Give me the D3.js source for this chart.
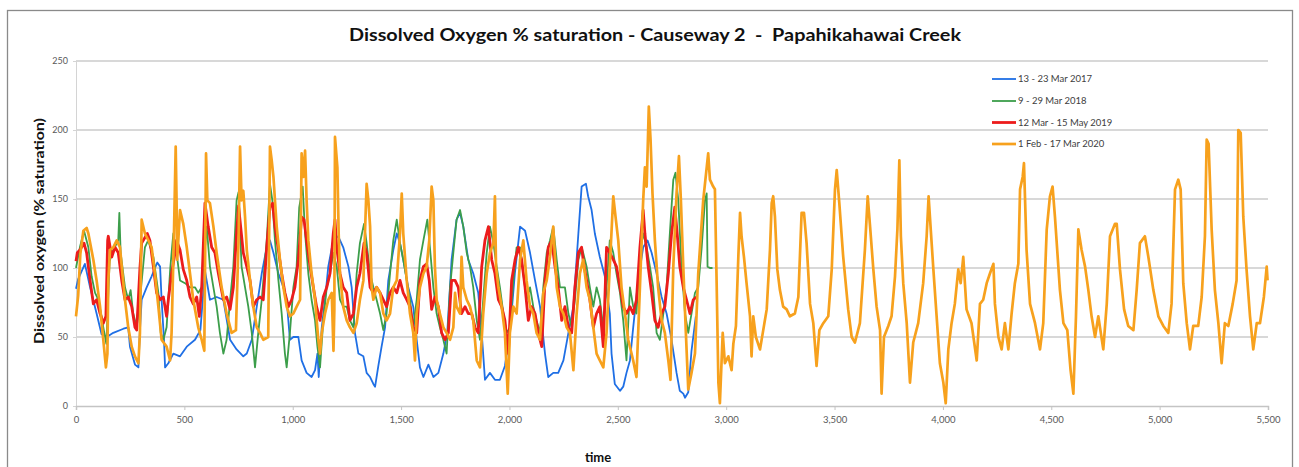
<!DOCTYPE html>
<html><head><meta charset="utf-8">
<script src="https://cdn.jsdelivr.net/npm/d3@7"></script>
<style>
html,body{margin:0;padding:0;background:#fff;}
svg{display:block;}
text{font-family:Lato,"Open Sans",sans-serif;}
</style></head>
<body>
<svg id="chart" width="1299" height="467"></svg>
<script>
const title = "Dissolved Oxygen % saturation - Causeway 2  -  Papahikahawai Creek";
const xLabel = "time";
const yLabel = "Dissolved oxygen (% saturation)";
const seriesNames = ["13 - 23 Mar 2017", "9 - 29 Mar 2018", "12 Mar - 15 May 2019", "1 Feb - 17 Mar 2020"];
const xTicks = [0,500,1000,1500,2000,2500,3000,3500,4000,4500,5000,5500];
const yTicks = [0,50,100,150,200,250];

const blue2017 = [[0,85],[10,92],[41,103],[65,86],[95,67],[118,52],[142,50],[172,53],[219,56],[241,57],[249,43],[272,30],[288,28],[295,55],[303,77],[326,86],[349,94],[375,104],[388,101],[395,77],[406,48],[411,28],[426,31],[449,38],[480,36],[511,43],[549,48],[574,55],[595,98],[618,77],[649,79],[680,77],[711,48],[741,41],[772,36],[788,38],[811,48],[834,72],[857,96],[880,115],[895,120],[911,111],[934,96],[957,86],[972,77],[987,48],[1003,50],[1026,50],[1041,33],[1064,24],[1087,21],[1103,26],[1114,38],[1120,21],[1134,57],[1149,77],[1164,101],[1187,120],[1210,123],[1233,115],[1257,101],[1272,86],[1287,53],[1303,38],[1326,36],[1341,24],[1357,21],[1372,16],[1380,14],[1395,29],[1410,43],[1426,57],[1441,91],[1464,113],[1480,125],[1495,118],[1510,106],[1533,86],[1556,72],[1572,48],[1587,28],[1603,21],[1626,30],[1649,21],[1672,24],[1695,38],[1713,53],[1733,106],[1756,135],[1772,140],[1787,130],[1810,106],[1833,96],[1856,82],[1872,53],[1887,19],[1910,24],[1933,19],[1956,19],[1979,29],[2002,53],[2025,96],[2049,130],[2072,127],[2095,111],[2118,91],[2141,72],[2164,38],[2179,21],[2202,24],[2225,24],[2249,33],[2272,53],[2295,72],[2318,125],[2333,159],[2353,161],[2363,152],[2379,142],[2394,125],[2417,108],[2440,94],[2463,67],[2471,38],[2486,16],[2510,11],[2525,14],[2540,24],[2556,33],[2571,57],[2594,91],[2617,115],[2637,120],[2656,111],[2679,96],[2702,79],[2725,67],[2748,48],[2771,24],[2786,11],[2802,9],[2810,6],[2825,10],[2840,40],[2860,65]];

const green2018 = [[0,100],[18,115],[37,127],[57,115],[72,94],[88,82],[103,77],[118,65],[126,57],[140,45],[155,105],[172,113],[195,120],[200,140],[206,111],[226,86],[241,77],[252,84],[264,67],[280,57],[295,77],[318,115],[333,120],[357,108],[380,82],[391,53],[403,48],[418,57],[435,100],[449,125],[464,111],[480,91],[503,89],[526,86],[549,86],[564,82],[580,86],[603,130],[618,101],[634,86],[649,72],[664,53],[680,38],[695,48],[711,77],[726,101],[741,149],[750,155],[764,101],[780,86],[795,72],[811,53],[826,28],[841,53],[857,77],[880,120],[895,161],[906,149],[918,120],[934,91],[949,67],[964,38],[972,28],[987,53],[1003,86],[1018,101],[1030,144],[1046,159],[1057,125],[1072,96],[1087,77],[1103,62],[1114,43],[1126,28],[1141,62],[1157,86],[1172,96],[1187,111],[1203,101],[1218,77],[1233,72],[1249,72],[1264,62],[1280,57],[1295,96],[1310,118],[1329,132],[1341,118],[1357,96],[1372,86],[1387,77],[1403,67],[1418,55],[1433,67],[1449,96],[1464,120],[1480,135],[1495,118],[1510,106],[1526,91],[1541,77],[1556,57],[1572,77],[1587,106],[1603,120],[1621,135],[1633,115],[1649,86],[1664,67],[1679,57],[1695,48],[1710,38],[1726,86],[1741,111],[1756,135],[1772,142],[1787,130],[1803,111],[1818,101],[1833,86],[1849,62],[1864,48],[1879,77],[1895,111],[1910,130],[1926,118],[1941,101],[1956,86],[1972,67],[1987,53],[2002,57],[2018,91],[2033,115],[2049,115],[2064,96],[2079,77],[2095,86],[2110,72],[2125,62],[2141,53],[2156,86],[2172,111],[2187,120],[2202,130],[2218,106],[2233,86],[2256,86],[2272,67],[2287,57],[2302,77],[2318,106],[2333,115],[2340,111],[2356,101],[2371,86],[2387,72],[2402,86],[2417,77],[2433,57],[2448,86],[2463,120],[2479,111],[2494,96],[2510,82],[2525,62],[2540,33],[2556,86],[2571,72],[2586,67],[2602,111],[2617,125],[2633,115],[2648,101],[2663,86],[2679,53],[2694,48],[2710,67],[2725,86],[2740,125],[2756,164],[2766,169],[2779,149],[2794,101],[2810,67],[2825,53],[2840,67],[2856,82],[2871,86],[2887,115],[2902,149],[2910,154],[2914,101],[2925,100],[2937,100]];

const red2019 = [[0,105],[6,111],[18,113],[37,118],[49,111],[65,91],[80,74],[95,77],[111,67],[126,60],[138,65],[146,120],[149,123],[165,108],[180,115],[195,111],[211,91],[226,77],[241,79],[257,72],[272,57],[280,55],[295,100],[303,118],[329,125],[341,120],[357,101],[372,82],[388,77],[403,79],[418,65],[426,77],[441,96],[457,111],[464,120],[480,113],[495,99],[511,91],[526,79],[541,74],[557,79],[569,65],[580,86],[595,147],[610,130],[626,115],[641,111],[657,96],[680,77],[695,79],[711,70],[726,86],[741,125],[750,145],[772,111],[788,101],[803,91],[818,72],[834,77],[849,79],[864,77],[880,115],[895,144],[907,147],[918,130],[934,113],[949,96],[964,82],[980,72],[995,77],[1010,86],[1026,106],[1041,137],[1052,135],[1064,120],[1080,101],[1095,86],[1110,72],[1126,62],[1141,79],[1157,86],[1172,96],[1187,125],[1195,135],[1203,115],[1218,96],[1233,86],[1249,82],[1264,62],[1280,67],[1295,86],[1310,96],[1329,118],[1341,111],[1357,86],[1372,82],[1387,86],[1403,82],[1418,77],[1433,72],[1449,82],[1464,86],[1480,82],[1495,91],[1510,82],[1526,77],[1541,72],[1556,57],[1572,53],[1587,91],[1603,101],[1618,103],[1630,91],[1641,70],[1656,79],[1672,72],[1687,53],[1703,48],[1718,53],[1733,91],[1749,91],[1764,86],[1779,67],[1795,72],[1810,67],[1826,67],[1841,57],[1856,53],[1872,101],[1887,120],[1903,130],[1918,106],[1933,96],[1949,77],[1964,72],[1979,62],[1995,38],[2010,91],[2026,106],[2041,115],[2056,106],[2072,86],[2087,62],[2102,72],[2118,67],[2133,53],[2149,43],[2164,91],[2179,115],[2195,120],[2210,101],[2225,86],[2241,62],[2256,72],[2272,57],[2287,53],[2302,86],[2318,111],[2333,115],[2340,106],[2356,91],[2371,77],[2387,57],[2402,67],[2417,72],[2433,43],[2448,115],[2463,111],[2479,106],[2494,101],[2510,86],[2525,72],[2540,67],[2556,72],[2571,67],[2586,77],[2602,115],[2617,142],[2625,125],[2640,101],[2656,82],[2671,62],[2686,57],[2702,67],[2717,72],[2733,96],[2748,125],[2763,144],[2774,125],[2786,101],[2802,86],[2817,77],[2833,67],[2848,77],[2863,79]];

const orange2020 = [[0,65],[10,80],[20,110],[34,127],[49,129],[57,125],[80,106],[95,91],[111,72],[126,48],[138,28],[145,38],[149,91],[157,113],[172,115],[188,120],[203,115],[211,101],[226,77],[241,57],[257,43],[272,36],[288,31],[295,53],[303,135],[318,125],[334,120],[349,115],[364,96],[380,72],[395,48],[418,43],[434,33],[441,53],[452,125],[460,188],[464,149],[467,106],[480,142],[495,132],[511,115],[526,96],[541,77],[564,57],[580,48],[592,40],[600,183],[606,149],[618,147],[634,130],[649,111],[672,86],[695,67],[718,53],[738,55],[750,120],[757,188],[764,149],[772,156],[780,137],[788,113],[803,91],[818,72],[834,57],[849,53],[864,48],[887,50],[895,188],[903,178],[911,166],[918,149],[926,130],[941,106],[957,86],[972,72],[987,65],[1003,67],[1018,72],[1034,77],[1041,183],[1049,166],[1057,185],[1064,149],[1072,120],[1087,96],[1103,77],[1118,48],[1126,38],[1134,53],[1149,67],[1164,77],[1180,82],[1188,40],[1192,70],[1195,195],[1206,173],[1212,125],[1218,96],[1233,72],[1249,62],[1264,57],[1280,53],[1295,60],[1310,77],[1326,91],[1341,161],[1349,149],[1357,130],[1364,86],[1372,77],[1387,86],[1403,82],[1418,67],[1433,62],[1449,67],[1464,86],[1480,91],[1495,125],[1503,154],[1510,125],[1526,91],[1541,67],[1556,53],[1564,33],[1572,67],[1587,86],[1603,96],[1618,101],[1630,120],[1641,159],[1649,149],[1656,101],[1664,77],[1679,67],[1695,57],[1710,53],[1726,48],[1741,57],[1749,82],[1756,72],[1772,67],[1779,108],[1787,86],[1803,77],[1818,72],[1833,62],[1849,33],[1864,28],[1879,67],[1895,96],[1910,111],[1926,118],[1933,152],[1938,101],[1949,86],[1964,72],[1979,53],[1992,9],[2002,53],[2018,72],[2033,67],[2049,106],[2064,120],[2079,91],[2095,72],[2110,67],[2125,53],[2141,48],[2156,82],[2172,91],[2187,108],[2202,130],[2218,86],[2233,72],[2249,67],[2264,57],[2279,53],[2295,26],[2310,67],[2325,96],[2340,106],[2356,86],[2371,77],[2387,57],[2402,38],[2417,33],[2433,28],[2448,53],[2463,101],[2479,152],[2491,135],[2502,120],[2517,86],[2533,67],[2548,48],[2571,33],[2586,21],[2602,86],[2617,149],[2625,173],[2633,159],[2643,217],[2651,193],[2660,154],[2671,120],[2686,86],[2702,62],[2717,53],[2733,33],[2743,19],[2756,101],[2771,154],[2782,181],[2791,149],[2802,101],[2814,53],[2825,12],[2840,24],[2856,38],[2871,96],[2894,149],[2917,183],[2925,164],[2940,159],[2948,157],[2956,89],[2964,17],[2971,2],[2984,53],[2994,31],[3010,36],[3025,26],[3033,45],[3045,58],[3056,108],[3064,140],[3071,123],[3082,108],[3094,89],[3110,65],[3117,36],[3125,65],[3137,50],[3156,41],[3171,55],[3187,70],[3202,113],[3210,147],[3217,152],[3225,137],[3236,99],[3248,84],[3263,72],[3279,70],[3294,65],[3317,67],[3333,79],[3348,140],[3359,140],[3371,118],[3387,74],[3402,60],[3417,29],[3430,55],[3448,60],[3471,65],[3487,99],[3502,157],[3510,171],[3522,147],[3540,108],[3563,70],[3579,50],[3594,46],[3617,60],[3640,113],[3653,152],[3663,132],[3679,99],[3694,72],[3710,55],[3717,9],[3728,50],[3748,58],[3763,65],[3779,94],[3790,128],[3799,178],[3806,123],[3817,89],[3833,60],[3848,17],[3863,46],[3886,60],[3909,89],[3925,123],[3934,152],[3943,130],[3956,99],[3971,65],[3986,31],[4002,17],[4013,2],[4025,41],[4040,60],[4055,74],[4071,99],[4082,89],[4094,108],[4109,70],[4132,60],[4156,33],[4171,74],[4186,77],[4202,89],[4217,96],[4233,103],[4240,74],[4256,50],[4271,41],[4286,60],[4302,41],[4317,67],[4332,89],[4348,103],[4356,157],[4368,166],[4374,176],[4386,113],[4402,74],[4425,60],[4448,41],[4463,60],[4479,128],[4494,152],[4506,159],[4517,137],[4540,84],[4556,60],[4574,55],[4589,26],[4602,9],[4614,65],[4625,128],[4640,113],[4656,101],[4671,84],[4686,65],[4702,50],[4717,65],[4740,41],[4756,74],[4771,123],[4794,132],[4802,132],[4817,99],[4836,70],[4855,58],[4879,55],[4894,84],[4909,118],[4932,123],[4948,108],[4971,84],[4994,65],[5017,58],[5040,53],[5055,74],[5071,157],[5086,164],[5097,157],[5109,89],[5125,60],[5140,41],[5155,58],[5178,58],[5194,79],[5209,123],[5217,193],[5226,190],[5240,128],[5255,84],[5271,60],[5286,31],[5301,60],[5317,58],[5337,74],[5355,91],[5363,200],[5374,198],[5386,137],[5401,99],[5417,65],[5432,41],[5448,60],[5463,60],[5481,79],[5494,101],[5498,91]];

const seriesData = [blue2017, green2018, red2019, orange2020];
const seriesColors = ["#1f6fe5", "#3c9e4a", "#ec1c1c", "#f7a11d"];
const seriesWidths = [1.8, 1.8, 2.8, 2.7];

const svg = d3.select("#chart");
const L = 76, R = 1268, T = 61, B = 406;

const x = d3.scaleLinear().domain([0, 5500]).range([L, R]);
const y = d3.scaleLinear().domain([0, 250]).range([B, T]);

// outer frame
svg.append("rect").attr("x", 7.5).attr("y", 10.5).attr("width", 1285).attr("height", 480)
  .attr("fill", "none").attr("stroke", "#8a8a8a").attr("stroke-width", 1.3);

// gridlines
svg.append("g").selectAll("line").data(yTicks.filter(d => d > 0)).join("line")
  .attr("x1", L).attr("x2", R).attr("y1", d => y(d)).attr("y2", d => y(d))
  .attr("stroke", "#cbcbcb").attr("stroke-width", 1.5);

// y axis
const yAxis = svg.append("g").attr("transform", `translate(${L},0)`)
  .call(d3.axisLeft(y).tickValues(yTicks).tickSize(3).tickPadding(5).tickFormat(d3.format("d")));
yAxis.select(".domain").attr("stroke", "#d4d4d4");
yAxis.selectAll(".tick line").attr("stroke", "#d4d4d4");
yAxis.selectAll("text").attr("fill", "#595959").style("font-size", "9px").style("font-family", "Lato, sans-serif");

// x axis
const xAxis = svg.append("g").attr("transform", `translate(0,${B})`)
  .call(d3.axisBottom(x).tickValues(xTicks).tickSize(4).tickPadding(6).tickFormat(d3.format(",")));
xAxis.select(".domain").attr("stroke", "#c4c4c4").attr("stroke-width", 1.5);
xAxis.selectAll(".tick line").attr("stroke", "#c4c4c4");
xAxis.selectAll("text").attr("fill", "#595959").style("font-size", "9.5px").style("font-family", "Lato, sans-serif");

// lines
const line = d3.line().x(d => x(d[0])).y(d => y(d[1]));
svg.append("g").selectAll("path").data(seriesData).join("path")
  .attr("d", line).attr("fill", "none")
  .attr("stroke", (d, i) => seriesColors[i])
  .attr("stroke-width", (d, i) => seriesWidths[i])
  .attr("stroke-linejoin", "round");

// title
svg.append("text").attr("x", 655).attr("y", 41).attr("text-anchor", "middle")
  .attr("fill", "#111").style("font-size", "16.5px").style("font-weight", "bold")
  .style("white-space", "pre").attr("textLength", 612).attr("lengthAdjust", "spacingAndGlyphs")
  .text(title);

// axis labels
svg.append("text").attr("x", 598).attr("y", 462).attr("text-anchor", "middle")
  .attr("fill", "#111").style("font-size", "13px").style("font-weight", "bold").text(xLabel);
svg.append("text").attr("transform", "translate(44,231) rotate(-90)").attr("text-anchor", "middle")
  .attr("fill", "#111").style("font-size", "13px").style("font-weight", "bold")
  .attr("textLength", 226).attr("lengthAdjust", "spacingAndGlyphs").text(yLabel);

// legend
const legend = svg.append("g");
const rowsY = [79, 101, 122.5, 144];
seriesNames.forEach((name, i) => {
  legend.append("line").attr("x1", 992).attr("x2", 1016).attr("y1", rowsY[i]).attr("y2", rowsY[i])
    .attr("stroke", seriesColors[i]).attr("stroke-width", seriesWidths[i]);
  legend.append("text").attr("x", 1018).attr("y", rowsY[i] + 3.3)
    .attr("fill", "#404040").style("font-size", "9.5px").text(name);
});
</script>
</body></html>
